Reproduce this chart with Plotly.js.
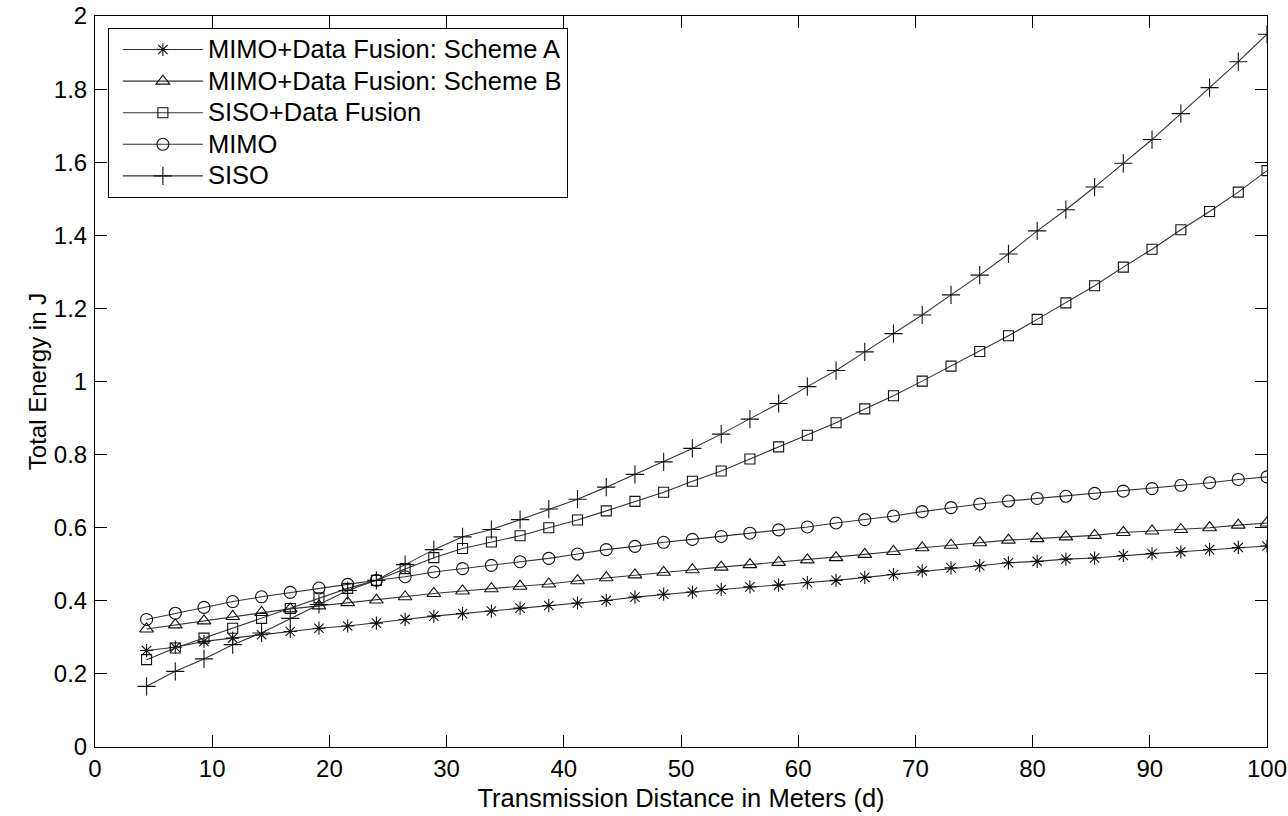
<!DOCTYPE html>
<html>
<head>
<meta charset="utf-8">
<script src="https://cdn.plot.ly/plotly-3.0.1.min.js"></script>
<style>html,body{margin:0;padding:0;background:#fff;}#chart{width:1288px;height:816px;}</style>
</head>
<body>
<div id="chart"></div>
<script>
// Transmission distance (m)
const distance = [4.40, 6.85, 9.30, 11.75, 14.21, 16.66, 19.11, 21.56, 24.01, 26.46,
  28.91, 31.36, 33.82, 36.27, 38.72, 41.17, 43.62, 46.07, 48.52, 50.97,
  53.43, 55.88, 58.33, 60.78, 63.23, 65.68, 68.13, 70.58, 73.04, 75.49,
  77.94, 80.39, 82.84, 85.29, 87.74, 90.19, 92.65, 95.10, 97.55, 100.00];

const schemeA = [0.264, 0.273, 0.289, 0.298, 0.307, 0.316, 0.325, 0.331, 0.339, 0.349,
  0.358, 0.365, 0.372, 0.380, 0.387, 0.394, 0.401, 0.410, 0.418, 0.424,
  0.431, 0.438, 0.443, 0.450, 0.456, 0.464, 0.472, 0.482, 0.490, 0.496,
  0.504, 0.508, 0.514, 0.517, 0.524, 0.529, 0.534, 0.540, 0.546, 0.550];

const schemeB = [0.323, 0.334, 0.345, 0.357, 0.368, 0.378, 0.386, 0.395, 0.402, 0.411,
  0.420, 0.427, 0.433, 0.440, 0.446, 0.455, 0.463, 0.471, 0.478, 0.485,
  0.492, 0.499, 0.505, 0.512, 0.518, 0.527, 0.535, 0.545, 0.552, 0.559,
  0.566, 0.570, 0.575, 0.579, 0.587, 0.591, 0.595, 0.600, 0.607, 0.613];

const sisoFusion = [0.239, 0.271, 0.298, 0.325, 0.352, 0.379, 0.408, 0.434, 0.456, 0.488,
  0.518, 0.543, 0.561, 0.578, 0.600, 0.621, 0.646, 0.672, 0.697, 0.727,
  0.755, 0.788, 0.821, 0.853, 0.887, 0.925, 0.961, 1.001, 1.042, 1.082,
  1.125, 1.170, 1.215, 1.262, 1.313, 1.362, 1.415, 1.465, 1.518, 1.577];

const mimo = [0.349, 0.366, 0.382, 0.398, 0.411, 0.423, 0.435, 0.445, 0.456, 0.466,
  0.479, 0.488, 0.497, 0.507, 0.516, 0.528, 0.540, 0.549, 0.560, 0.568,
  0.576, 0.585, 0.594, 0.602, 0.613, 0.622, 0.632, 0.644, 0.655, 0.665,
  0.673, 0.680, 0.686, 0.694, 0.700, 0.707, 0.716, 0.723, 0.732, 0.739];

const siso = [0.166, 0.207, 0.241, 0.280, 0.312, 0.352, 0.390, 0.428, 0.456, 0.499,
  0.540, 0.575, 0.595, 0.622, 0.651, 0.678, 0.711, 0.746, 0.780, 0.817,
  0.856, 0.897, 0.940, 0.986, 1.030, 1.081, 1.131, 1.182, 1.237, 1.291,
  1.349, 1.412, 1.470, 1.532, 1.597, 1.662, 1.733, 1.804, 1.875, 1.950];

const seriesNames = ["MIMO+Data Fusion: Scheme A", "MIMO+Data Fusion: Scheme B",
  "SISO+Data Fusion", "MIMO", "SISO"];

const FONT = "Liberation Sans, Arial, sans-serif";

function mk(y, name, symbol, size) {
  return {
    x: distance, y: y, name: '<span style="font-size:25.5px">' + name + '</span>',
    type: "scatter", mode: "lines+markers",
    line: {color: "#333333", width: 1.1},
    marker: {symbol: symbol, size: size, color: "#111111", line: {color: "#111111", width: 1.1}}
  };
}

const data = [
  mk(schemeA, seriesNames[0], "asterisk-open", 11),
  mk(schemeB, seriesNames[1], "triangle-up-open", 12),
  mk(sisoFusion, seriesNames[2], "square-open", 10),
  mk(mimo, seriesNames[3], "circle-open", 12),
  mk(siso, seriesNames[4], "cross-thin-open", 13)
];

const axisCommon = {
  showline: true, linecolor: "#000", linewidth: 1, mirror: "ticks",
  ticks: "inside", ticklen: 12, tickwidth: 1, tickcolor: "#000",
  showgrid: false, zeroline: false,
  tickfont: {family: FONT, size: 24, color: "#000"}
};

const layout = {
  width: 1288, height: 816,
  paper_bgcolor: "#fff", plot_bgcolor: "#fff",
  margin: {l: 95, r: 21, t: 16, b: 69},
  showlegend: true,
  xaxis: Object.assign({}, axisCommon, {
    range: [0, 100], dtick: 10, tick0: 0,
    title: {text: "Transmission Distance in Meters (d)", font: {family: FONT, size: 25.5, color: "#000"}, standoff: 8}
  }),
  yaxis: Object.assign({}, axisCommon, {
    range: [0, 2], dtick: 0.2, tick0: 0, ticklabelstandoff: 2,
    title: {text: "Total Energy in J", font: {family: FONT, size: 24, color: "#000"}, standoff: 0}
  }),
  legend: {
    x: 0.011, y: 0.984, xanchor: "left", yanchor: "top",
    bgcolor: "#fff", bordercolor: "#000", borderwidth: 1,
    font: {family: FONT, size: 22, color: "#000"},
    itemwidth: 80, tracegroupgap: 0, indentation: 9
  }
};

Plotly.newPlot("chart", data, layout, {displayModeBar: false, staticPlot: true});
</script>
</body>
</html>
